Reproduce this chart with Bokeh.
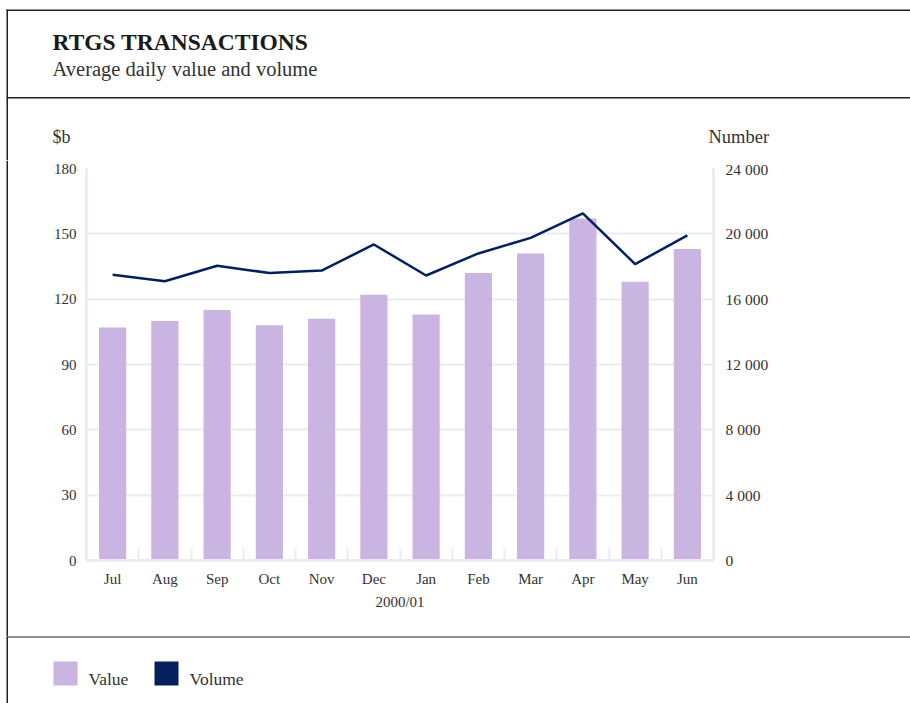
from bokeh.plotting import figure
from bokeh.models import (Range1d, LinearAxis, FixedTicker, Label, BoxAnnotation,
                          ColumnDataSource)
from bokeh.layouts import column, row
from bokeh.embed import file_html
from bokeh.resources import INLINE

months = ["Jul", "Aug", "Sep", "Oct", "Nov", "Dec", "Jan", "Feb", "Mar", "Apr", "May", "Jun"]
value_bn = [107, 110, 115, 108, 111, 122, 113, 132, 141, 157, 128, 143]
volume_num = [17500, 17100, 18050, 17600, 17750, 19350, 17450, 18800, 19750, 21250, 18150, 19900]
left_ticks = [0, 30, 60, 90, 120, 150, 180]
right_ticks = [0, 4000, 8000, 12000, 16000, 20000, 24000]
right_labels = ["0", "4 000", "8 000", "12 000", "16 000", "20 000", "24 000"]

FONT = "Liberation Serif"
TXT = "#333333"
GRID = "#ecebf4"
BAR = "#cab4e2"
LINE = "#03205c"
RULE = "#222222"

W = 910
HEAD_H = 160      # page y 0..160
MAIN_H = 476      # page y 160..636
LEG_H = 67        # page y 636..703
STRIP_W = 8
MAIN_W = W - STRIP_W


def canvas_fig(w, h):
    f = figure(width=w, height=h, output_backend="svg", toolbar_location=None,
               x_range=Range1d(0, w), y_range=Range1d(h, 0), min_border=0,
               x_axis_location=None, y_axis_location=None,
               background_fill_color="white", border_fill_color="white")
    f.outline_line_color = None
    f.grid.visible = False
    return f


def lab(f, x, y, text, size="15px", style="normal", color=TXT):
    f.add_layout(Label(x=x, y=y, text=text, text_font=FONT, text_font_size=size,
                       text_font_style=style, text_color=color,
                       text_align="left", text_baseline="middle"))


def box(f, l, r, t, b, color):
    f.add_layout(BoxAnnotation(left=l, right=r, top=t, bottom=b, fill_color=color,
                               fill_alpha=1, line_color=None, level="overlay"))


# ---- header
head = canvas_fig(W, HEAD_H)
box(head, 6, W, 9, 10.5, RULE)
box(head, 6, W, 96.5, 98, RULE)
box(head, 6, 7.5, 9, HEAD_H, RULE)
lab(head, 52, 41, "RTGS TRANSACTIONS", size="23.5px", style="bold", color="#1a1a1a")
lab(head, 52, 68, "Average daily value and volume", size="20.5px")
lab(head, 52, 136, "$b", size="18px")
lab(head, 708, 136, "Number", size="18.5px")

# ---- left border strip
strip = canvas_fig(STRIP_W, MAIN_H)
box(strip, 6, 7.5, 0, MAIN_H, RULE)

# ---- main chart
pos = [i + 0.5 for i in range(len(months))]
src = ColumnDataSource(dict(x=pos, v=value_bn, n=volume_num))

FL, FR, FT, FB = 78, 705, 8, 400   # frame edges in this canvas
p = figure(width=MAIN_W, height=MAIN_H, output_backend="svg", toolbar_location=None,
           x_range=Range1d(0, len(months)), y_range=Range1d(0, 180),
           min_border_left=FL, min_border_right=MAIN_W - FR, min_border_top=FT,
           min_border_bottom=MAIN_H - FB, x_axis_location=None, y_axis_location=None,
           background_fill_color="white", border_fill_color="white")
p.outline_line_color = None
p.extra_y_ranges = {"num": Range1d(0, 24000)}

xa = LinearAxis(ticker=FixedTicker(ticks=pos, minor_ticks=list(range(1, len(months)))))
xa.major_label_overrides = {t: m for t, m in zip(pos, months)}
xa.axis_label = "2000/01"
ya = LinearAxis(ticker=FixedTicker(ticks=left_ticks))
yr = LinearAxis(y_range_name="num", ticker=FixedTicker(ticks=right_ticks))
yr.major_label_overrides = {t: l for t, l in zip(right_ticks, right_labels)}
for ax in (xa, ya, yr):
    ax.axis_line_color = GRID
    ax.axis_line_width = 3
    ax.major_tick_in = 0
    ax.major_tick_out = 0
    ax.minor_tick_out = 0
    ax.minor_tick_in = 0
    ax.major_label_text_font = FONT
    ax.major_label_text_font_size = "15px"
    ax.major_label_text_color = TXT
    ax.axis_label_text_font = FONT
    ax.axis_label_text_font_size = "15px"
    ax.axis_label_text_color = TXT
    ax.axis_label_text_font_style = "normal"
yr.major_label_text_font_size = "15.5px"
xa.minor_tick_in = 12
xa.minor_tick_line_color = GRID
xa.minor_tick_line_width = 2
xa.major_label_standoff = 10
xa.axis_label_standoff = 4
ya.major_label_standoff = 10
yr.major_label_standoff = 12
p.add_layout(xa, "below")
p.add_layout(ya, "left")
p.add_layout(yr, "right")

p.xgrid.visible = False
p.ygrid.ticker = FixedTicker(ticks=left_ticks)
p.ygrid.grid_line_color = GRID
p.ygrid.grid_line_width = 2

p.vbar(x="x", top="v", width=0.52, source=src, fill_color=BAR, line_color=None)
p.line(x="x", y="n", source=src, y_range_name="num", line_color=LINE, line_width=2.5)

# ---- legend
leg = canvas_fig(W, LEG_H)
box(leg, 6, W, -0.5, 1, RULE)
box(leg, 6, 7.5, 0, LEG_H, RULE)
box(leg, 53, 77, 25, 49, BAR)
box(leg, 154, 178, 25, 49, LINE)
lab(leg, 88, 42, "Value", size="17.5px")
lab(leg, 189, 42, "Volume", size="17.5px")

layout = column(head, row(column(strip), p, spacing=0), leg, spacing=0)
open("out.html", "w").write(file_html(layout, INLINE))
